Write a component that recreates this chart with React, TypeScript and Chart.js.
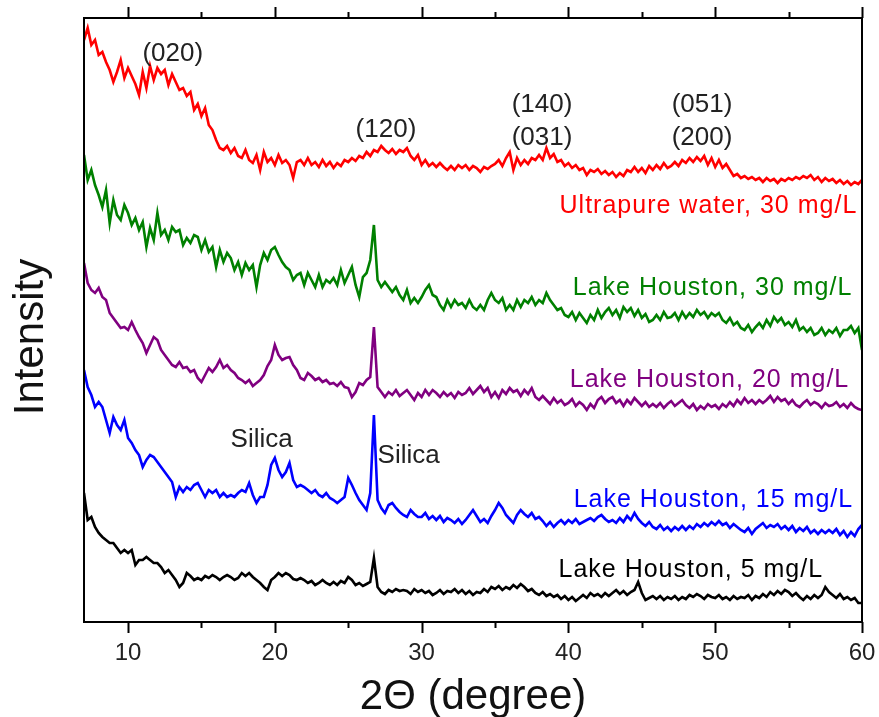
import React, { useEffect, useRef } from "react";
import { Chart, registerables } from "chart.js";

Chart.register(...registerables);

// 2θ grid: 7° to 60° in 0.25° steps (213 points per pattern)
const ANGLE_START = 7;
const ANGLE_STEP = 0.25;

// Intensities (a.u., already stacked with offsets) – one row per degree
const ultrapure30 = [
  582, 594, 577, 582, 567, 570, 560, 552, 540, 550, 562, 544, 554, 546, 538, 527,
  550, 534, 556, 542, 554, 548, 552, 537, 548, 540, 532, 534, 526, 530, 512, 518,
  506, 514, 497, 492, 482, 474, 472, 476, 469, 474, 466, 464, 472, 462, 459, 467,
  452, 470, 460, 464, 457, 467, 459, 462, 457, 444, 460, 462, 457, 464, 457, 460,
  455, 462, 456, 460, 454, 459, 456, 462, 460, 464, 461, 466, 464, 470, 466, 472,
  470, 476, 472, 469, 473, 468, 472, 470, 474, 466, 462, 467, 457, 462, 456, 459,
  455, 459, 455, 452, 456, 452, 457, 454, 457, 452, 456, 454, 450, 455, 453, 456,
  458, 462, 456, 464, 470, 452, 464, 457, 462, 458, 464, 462, 467, 462, 474, 464,
  468, 460, 462, 456, 459, 454, 457, 452, 454, 447, 452, 450, 453, 448, 451, 447,
  450, 445, 449, 446, 452, 450, 455, 450, 454, 449, 456, 452, 457, 453, 459, 454,
  456, 460, 456, 462, 459, 464, 460, 465, 461, 466, 457, 464, 455, 462, 454, 458,
  452, 446, 448, 444, 446, 443, 445, 442, 444, 440, 444, 441, 443, 439, 443, 441,
  444, 442, 445, 443, 446, 444, 447, 442, 445, 440, 444, 441, 443, 439, 442, 438,
  441, 437, 440, 438, 442,
];

const houston30 = [
  467, 442, 452, 437, 427, 415, 432, 399, 422, 407, 402, 417, 409, 397, 404, 392,
  400, 375, 394, 382, 409, 387, 392, 382, 395, 390, 392, 377, 384, 379, 387, 385,
  372, 382, 370, 375, 355, 372, 360, 369, 364, 352, 360, 347, 359, 352, 357, 335,
  357, 369, 362, 372, 375, 367, 360, 355, 352, 342, 347, 349, 337, 349, 342, 335,
  347, 335, 342, 339, 344, 337, 352, 339, 347, 355, 337, 325, 345, 349, 362, 397,
  342, 335, 340, 335, 330, 335, 327, 322, 332, 319, 324, 319, 325, 332, 337, 327,
  325, 317, 312, 322, 315, 322, 317, 319, 314, 322, 315, 312, 317, 312, 322, 329,
  322, 319, 324, 312, 317, 312, 322, 315, 322, 319, 325, 317, 322, 319, 329, 322,
  317, 312, 314, 307, 305, 310, 302, 309, 304, 299, 307, 302, 312, 304, 310, 314,
  307, 312, 304, 315, 310, 314, 306, 312, 304, 308, 300, 302, 307, 302, 310, 304,
  305, 309, 302, 310, 304, 309, 305, 312, 307, 310, 304, 309, 306, 309, 302, 299,
  304, 297, 300, 294, 292, 297, 290, 295, 299, 294, 302, 296, 305, 300, 304, 297,
  300, 295, 302, 292, 295, 290, 294, 287, 289, 294, 287, 292, 289, 294, 286, 292,
  292, 296, 289, 294, 272,
];

const houston20 = [
  359, 339, 332, 329, 334, 325, 322, 309, 304, 299, 294, 295, 292, 300, 292, 285,
  279, 269, 277, 285, 282, 272, 267, 262, 257, 255, 260, 254, 255, 250, 252, 244,
  240, 247, 254, 250, 255, 262, 254, 257, 252, 249, 244, 242, 239, 242, 236, 239,
  242, 247, 256, 262, 277, 267, 262, 264, 265, 257, 252, 244, 242, 249, 246, 242,
  244, 240, 242, 238, 239, 236, 240, 235, 234, 225, 230, 239, 237, 242, 245, 295,
  235, 230, 225, 230, 227, 232, 226, 229, 232, 227, 222, 229, 225, 232, 227, 232,
  229, 225, 230, 226, 229, 224, 230, 227, 229, 234, 228, 232, 236, 230, 234, 225,
  230, 224, 232, 228, 234, 230, 232, 226, 232, 228, 234, 225, 222, 226, 222, 218,
  224, 219, 222, 217, 219, 223, 216, 220, 217, 212, 218, 214, 222, 225, 219, 223,
  225, 219, 222, 216, 222, 218, 224, 220, 216, 220, 215, 218, 215, 219, 214, 218,
  221, 216, 219, 222, 217, 214, 218, 212, 216, 213, 218, 215, 217, 213, 218, 215,
  220, 216, 222, 218, 224, 219, 222, 218, 222, 219, 222, 226, 220, 225, 221, 223,
  218, 222, 217, 215, 219, 222, 217, 220, 218, 214, 219, 216, 217, 220, 215, 218,
  214, 219, 215, 213, 212,
];

const houston15 = [
  252, 235, 227, 215, 220, 215, 202, 189, 205, 197, 192, 202, 184, 179, 172, 167,
  155, 162, 167, 165, 160, 155, 150, 145, 140, 125, 135, 130, 135, 132, 137, 139,
  132, 125, 132, 129, 132, 125, 129, 125, 127, 125, 129, 132, 130, 139, 127, 119,
  125, 125, 137, 157, 164, 152, 145, 150, 159, 142, 135, 137, 135, 132, 129, 132,
  127, 125, 129, 124, 122, 119, 122, 125, 144, 137, 129, 122, 117, 112, 129, 207,
  122, 114, 109, 117, 119, 114, 110, 107, 105, 112, 108, 105, 105, 109, 103, 106,
  102, 106, 100, 104, 102, 99, 103, 98, 102, 107, 112, 106, 100, 103, 99, 106,
  112, 119, 114, 107, 103, 99, 107, 112, 108, 105, 109, 103, 105, 101, 96, 100,
  95, 99, 102, 98, 102, 99, 103, 98, 100, 102, 104, 101, 105, 107, 103, 100,
  102, 99, 104, 100, 106, 102, 109, 103, 99, 96, 100, 95, 93, 97, 92, 95,
  91, 95, 92, 96, 92, 96, 93, 98, 95, 99, 96, 100, 97, 101, 97, 99,
  94, 98, 95, 92, 90, 94, 88, 93, 96, 99, 94, 97, 95, 98, 93, 96,
  92, 96, 90, 94, 91, 95, 89, 92, 88, 92, 89, 92, 89, 93, 87, 91,
  85, 90, 86, 93, 97,
];

const houston5 = [
  129, 102, 105, 95, 89, 85, 82, 79, 79, 74, 69, 72, 69, 72, 57, 62,
  62, 65, 62, 59, 59, 55, 49, 52, 47, 42, 35, 39, 49, 46, 42, 44,
  42, 46, 44, 47, 45, 42, 45, 47, 45, 42, 44, 49, 46, 49, 45, 42,
  39, 35, 32, 42, 45, 49, 46, 49, 47, 43, 42, 44, 42, 39, 41, 37,
  39, 42, 39, 37, 40, 37, 41, 39, 45, 42, 37, 39, 36, 38, 40, 64,
  35, 30, 28, 32, 30, 33, 31, 32, 31, 28, 33, 30, 32, 29, 31, 27,
  29, 32, 28, 31, 30, 33, 29, 32, 28, 31, 27, 30, 29, 33, 30, 35,
  33, 36, 32, 35, 33, 37, 34, 38, 35, 31, 33, 29, 27, 30, 26, 28,
  25, 27, 23, 26, 22, 25, 21, 24, 27, 24, 29, 26, 28, 25, 29, 26,
  29, 32, 28, 31, 27, 30, 32, 40, 29, 22, 24, 26, 23, 26, 22, 25,
  23, 26, 22, 25, 23, 27, 25, 28, 26, 23, 27, 25, 24, 27, 23, 25,
  22, 26, 23, 25, 24, 27, 22, 26, 24, 28, 25, 30, 27, 31, 28, 32,
  30, 26, 29, 25, 22, 26, 23, 27, 24, 27, 35, 30, 27, 24, 28, 23,
  25, 22, 24, 19, 19,
];

const seriesNames = [
  "Ultrapure water, 30 mg/L",
  "Lake Houston, 30 mg/L",
  "Lake Houston, 20 mg/L",
  "Lake Houston, 15 mg/L",
  "Lake Houston, 5 mg/L",
];
const seriesValues = [ultrapure30, houston30, houston20, houston15, houston5];
const seriesColors = ["#ff0000", "#008000", "#800080", "#0000ff", "#000000"];
// label anchor (right end, baseline) in data units
const seriesLabelX = [59.68, 59.34, 59.13, 59.4, 57.35];
const seriesLabelY = [409, 327, 235, 115, 45];

const majorTicks = [10, 20, 30, 40, 50, 60];
const minorTicks = [15, 25, 35, 45, 55];

const peakTexts = ["(020)", "(120)", "(140)", "(031)", "(051)", "(200)"];
const peakX = [13.05, 27.57, 38.2, 38.2, 49.1, 49.1];
const peakY = [561, 485, 510, 477, 510, 477];

const silicaTexts = ["Silica", "Silica"];
const silicaX = [19.1, 27.0];
const silicaY = [175, 159];
const silicaAlign = ["center", "left"];

const FONT = '"Liberation Sans", Arial, Helvetica, sans-serif';

const decorPlugin = {
  id: "decor",
  afterDraw(chart: any) {
    const { ctx, chartArea: a, scales } = chart;
    const xs = scales.x;
    const ys = scales.y;
    ctx.save();
    // frame
    ctx.strokeStyle = "#000";
    ctx.lineWidth = 2;
    ctx.strokeRect(a.left, a.top, a.right - a.left, a.bottom - a.top);
    // tick marks
    const drawTick = (v: number, len: number) => {
      const px = Math.round(xs.getPixelForValue(v)) + 0.5;
      ctx.beginPath();
      ctx.moveTo(px, a.bottom);
      ctx.lineTo(px, a.bottom + len);
      ctx.moveTo(px, a.top);
      ctx.lineTo(px, a.top - len);
      ctx.stroke();
    };
    majorTicks.forEach((v) => drawTick(v, 11));
    minorTicks.forEach((v) => drawTick(v, 6));
    // tick labels
    ctx.fillStyle = "#222";
    ctx.font = `24px ${FONT}`;
    ctx.textAlign = "center";
    ctx.textBaseline = "alphabetic";
    majorTicks.forEach((v) => {
      ctx.fillText(String(v), xs.getPixelForValue(v), a.bottom + 38);
    });
    // axis titles
    ctx.fillStyle = "#111";
    ctx.font = `42px ${FONT}`;
    ctx.fillText("2\u0398 (degree)", (a.left + a.right) / 2, a.bottom + 87);
    ctx.save();
    ctx.translate(43, (a.top + a.bottom) / 2 + 17);
    ctx.rotate(-Math.PI / 2);
    ctx.textAlign = "center";
    ctx.fillText("Intensity", 0, 0);
    ctx.restore();
    // peak annotations
    ctx.fillStyle = "#222";
    ctx.font = `26px ${FONT}`;
    ctx.textAlign = "center";
    peakTexts.forEach((t, i) => {
      ctx.fillText(t, xs.getPixelForValue(peakX[i]), ys.getPixelForValue(peakY[i]));
    });
    silicaTexts.forEach((t, i) => {
      ctx.textAlign = silicaAlign[i];
      ctx.fillText(t, xs.getPixelForValue(silicaX[i]), ys.getPixelForValue(silicaY[i]));
    });
    // series labels
    ctx.textAlign = "right";
    ctx.font = `25px ${FONT}`;
    try {
      (ctx as any).letterSpacing = "1px";
    } catch (e) {}
    seriesNames.forEach((name, i) => {
      ctx.fillStyle = seriesColors[i];
      ctx.fillText(name, xs.getPixelForValue(seriesLabelX[i]), ys.getPixelForValue(seriesLabelY[i]));
    });
    try {
      (ctx as any).letterSpacing = "0px";
    } catch (e) {}
    ctx.restore();
  },
};

export default function App() {
  const ref = useRef<HTMLCanvasElement>(null);
  useEffect(() => {
    const canvas = ref.current;
    if (!canvas) return;
    const datasets = seriesValues.map((vals, s) => ({
      label: seriesNames[s],
      data: vals.map((v, i) => ({ x: ANGLE_START + i * ANGLE_STEP, y: v })),
      borderColor: seriesColors[s],
      backgroundColor: seriesColors[s],
      borderWidth: 2.6,
      pointRadius: 0,
      tension: 0,
      fill: false,
    }));
    const chart = new Chart(canvas, {
      type: "line",
      data: { datasets },
      options: {
        animation: false,
        responsive: false,
        devicePixelRatio: 1,
        layout: { padding: { left: 84, top: 18, right: 17, bottom: 95 } },
        plugins: { legend: { display: false }, tooltip: { enabled: false } },
        scales: {
          x: { type: "linear", min: 7, max: 60, display: false },
          y: { type: "linear", min: 0, max: 604, display: false },
        },
      },
      plugins: [decorPlugin],
    });
    return () => chart.destroy();
  }, []);
  return (
    <div style={{ position: "absolute", left: 0, top: 0, width: 879, height: 717, background: "#fff" }}>
      <canvas ref={ref} width={879} height={717} style={{ display: "block", width: 879, height: 717 }} />
    </div>
  );
}
